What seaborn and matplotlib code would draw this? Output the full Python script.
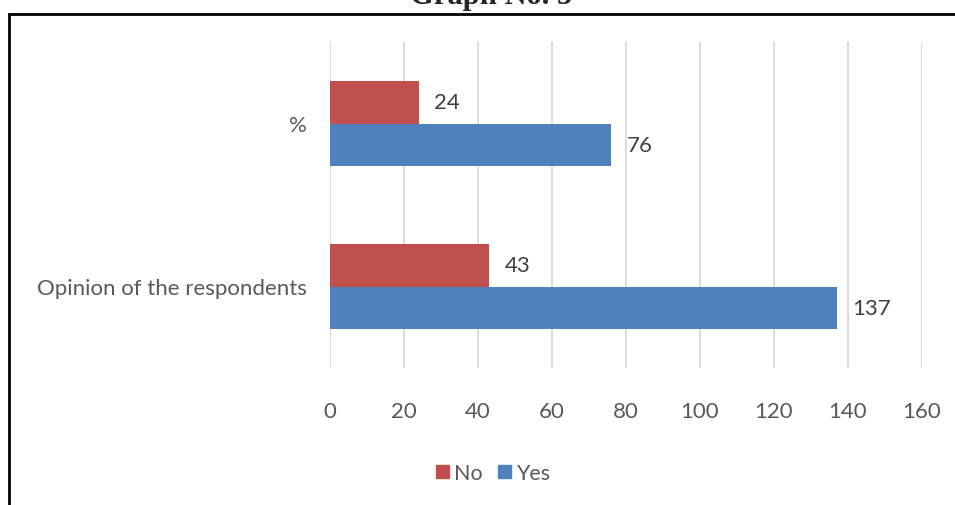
import matplotlib
matplotlib.use("Agg")
import matplotlib.pyplot as plt
from matplotlib.patches import Rectangle
import seaborn as sns
import pandas as pd

# Survey results
categories = ["%", "Opinion of the respondents"]
no_values = [24, 43]
yes_values = [76, 137]
series_names = ["No", "Yes"]
x_ticks = [0, 20, 40, 60, 80, 100, 120, 140, 160]
title = "Graph No. 5"

palette = {"No": "#C0504D", "Yes": "#4F81BD"}

df = pd.DataFrame({
    "category": categories * 2,
    "answer": ["No"] * len(categories) + ["Yes"] * len(categories),
    "value": no_values + yes_values,
})

sns.set_theme(style="white")
plt.rcParams["font.family"] = ["Lato", "DejaVu Sans"]

fig = plt.figure(figsize=(9.55, 5.06), dpi=100)
W, H = 955, 506
ax = fig.add_axes([330 / W, 1 - 369 / H, (922 - 330) / W, (369 - 43) / H])

sns.barplot(data=df, y="category", x="value", hue="answer",
            hue_order=series_names, order=categories, orient="h",
            palette=palette, width=0.52, linewidth=0, saturation=1,
            ax=ax, legend=False)

ax.set_xlim(0, 160)
ax.set_ylim(1.5, -0.5)
ax.set_xticks(x_ticks)
ax.set_xticklabels([str(t) for t in x_ticks])
ax.grid(axis="x", color="#D9D9D9", linewidth=1.3)
ax.set_axisbelow(True)
for s in ax.spines.values():
    s.set_visible(False)
ax.tick_params(axis="both", length=0, labelsize=16, labelcolor="#595959")
ax.tick_params(axis="x", pad=24)
ax.tick_params(axis="y", pad=17)
ax.set_xlabel("")
ax.set_ylabel("")

for cont in ax.containers:
    ax.bar_label(cont, labels=[f"{v:g}" for v in cont.datavalues],
                 padding=11, fontsize=16, color="#404040")

# Legend
handles = [Rectangle((0, 0), 1, 1, color=palette[n]) for n in series_names]
fig.legend(handles, series_names, loc="center", ncol=2, frameon=False,
           bbox_to_anchor=(493 / W, 1 - 474 / H), fontsize=15.5,
           handlelength=0.6, handleheight=0.6, handletextpad=0.25,
           columnspacing=0.7, labelcolor="#595959")

# Frame around the chart
fig.patches.append(Rectangle((9 / W, -0.1), 1.2, 1 - 14.5 / H + 0.1,
                             transform=fig.transFigure, fill=False,
                             edgecolor="black", linewidth=2))

fig.text(491 / W, 1 - 4 / H, title, ha="center", va="baseline",
         fontsize=22, fontweight="bold", family="Liberation Serif")

fig.savefig("out.png", dpi=100)
